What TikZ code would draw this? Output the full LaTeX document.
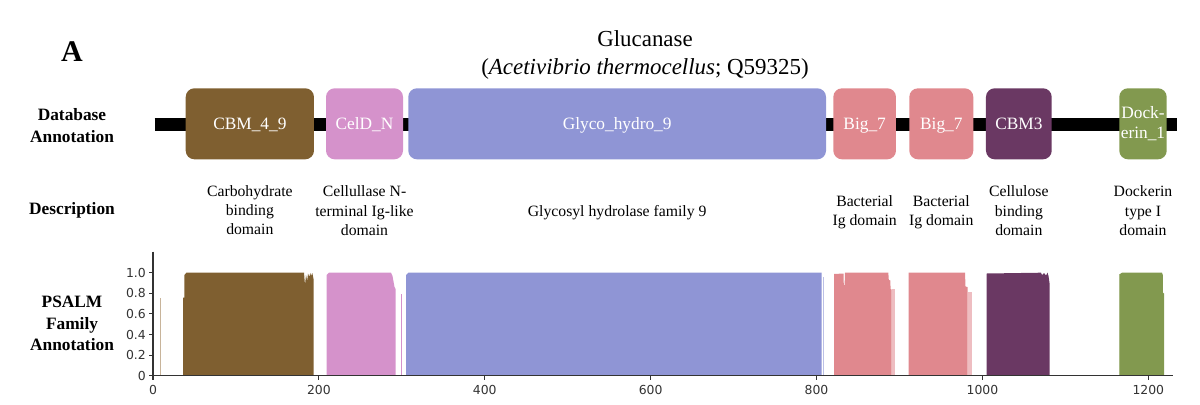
\documentclass[tikz,border=0pt]{standalone}
\usepackage{fontspec}
\setmainfont{Liberation Serif}
\newfontfamily\tickfont{DejaVu Sans}
\definecolor{cbrown}{HTML}{7F5F30}
\definecolor{cpink}{HTML}{D592CB}
\definecolor{cblue}{HTML}{8F95D5}
\definecolor{cred}{HTML}{E0888E}
\definecolor{cpurple}{HTML}{6A3863}
\definecolor{cgreen}{HTML}{82994F}
\definecolor{ctan}{HTML}{C8B49A}
\definecolor{caxis}{HTML}{333333}
\begin{document}
\begin{tikzpicture}[x=0.75pt,y=-0.75pt,
  dom/.style={rectangle, rounded corners=6.5pt, minimum height=53.25pt, inner sep=0pt,
    text=white, font=\fontsize{13}{15}\selectfont, align=center},
  oneline/.style={text height=8.6pt, text depth=0pt},
  side/.style={font=\fontsize{13}{16.3}\selectfont\bfseries, align=center},
  desc/.style={font=\fontsize{11.8}{14.4}\selectfont, align=center},
  axisline/.style={draw=caxis, line width=0.8pt},
  ticklab/.style={font=\fontsize{9.3}{11}\tickfont, text=caxis, inner sep=0pt}]
\useasboundingbox (0,0) rectangle (1200,404);

% panel letter and title
\node[font=\fontsize{22.5}{26}\selectfont\bfseries, anchor=base] (lblA) at (72,61.7) {A};
\node[font=\fontsize{17.2}{20}\selectfont, anchor=base] (title1) at (645,46.7) {Glucanase};
\node[font=\fontsize{17.2}{20}\selectfont, anchor=base] (title2) at (645,74) {(\textit{Acetivibrio thermocellus}; Q59325)};

% row labels
\node[side] (rowdb) at (72,125.8) {Database\\Annotation};
\node[side] (rowdesc) at (72,210.5) {Description};
\node[side] (rowps) at (72,323.5) {PSALM\\Family\\Annotation};

% backbone
\coordinate (bbL) at (154.5,124.5);
\coordinate (bbR) at (1176.5,124.5);
\draw[line width=9.3pt] (bbL) -- (bbR);

% domains
\node[dom, oneline, fill=cbrown, minimum width=96.2pt] (d1) at (249.85,123.8) {CBM\_4\_9};
\node[dom, oneline, fill=cpink, minimum width=57.75pt] (d2) at (364.5,123.8) {CelD\_N};
\node[dom, oneline, fill=cblue, minimum width=313.3pt] (d3) at (617.15,123.8) {Glyco\_hydro\_9};
\node[dom, oneline, fill=cred, minimum width=47pt] (d4) at (864.65,123.8) {Big\_7};
\node[dom, oneline, fill=cred, minimum width=48pt] (d5) at (941.3,123.8) {Big\_7};
\node[dom, oneline, fill=cpurple, minimum width=49.3pt] (d6) at (1018.85,123.8) {CBM3};
\node[dom, fill=cgreen, minimum width=35.6pt, font=\fontsize{13}{15}\selectfont] (d7) at (1143,123.8) {Dock-\\erin\_1};

% descriptions
\node[desc] (e1) at (249.85,210.3) {Carbohydrate\\binding\\domain};
\node[desc] (e2) at (364.5,210.8) {Cellullase N-\\terminal Ig-like\\domain};
\node[desc] (e3) at (617.15,212.3) {Glycosyl hydrolase family 9};
\node[desc] (e4) at (864.65,212) {Bacterial\\Ig domain};
\node[desc] (e5) at (941.3,212) {Bacterial\\Ig domain};
\node[desc] (e6) at (1018.85,210.8) {Cellulose\\binding\\domain};
\node[desc] (e7) at (1143,210.8) {Dockerin\\type I\\domain};

% PSALM bars
\fill[ctan] (159.6,375.7) rectangle (161.2,297.7);
\fill[cbrown] (183,375.7) -- (183,297.5) -- (184.3,297.5) -- (184.3,275) -- (186.5,272.7) -- (304,272.7) -- (305,285) -- (306,275) -- (307.2,281) -- (308,273.5) -- (309.3,277) -- (310.3,272.9) -- (311,276) -- (312.3,273) -- (313.5,279) -- (313.5,375.7) -- cycle;
\fill[cpink] (326.7,375.7) -- (326.7,275) -- (329,272.7) -- (391,272.7) -- (392.5,276) -- (394.5,287) -- (395.5,289) -- (395.5,375.7) -- cycle;
\fill[cpink] (400.5,294) rectangle (401.8,375.7);
\fill[cblue] (406,375.7) -- (406,275) -- (408.3,272.7) -- (821.7,272.7) -- (821.7,375.7) -- cycle;
\fill[cblue!60] (822.8,276.5) rectangle (824,375.7);
\fill[cred] (834,375.7) -- (834,274) -- (843.5,273.5) -- (843.8,285) -- (844.6,285) -- (845,272.7) -- (888.3,272.7) -- (888.8,280) -- (890.3,280.5) -- (890.6,289) -- (891.5,289.5) -- (891.5,375.7) -- cycle;
\fill[cred!55] (892,289) rectangle (895,375.7);
\fill[cred] (908.7,375.7) -- (908.7,272.7) -- (965,272.7) -- (965.5,286.5) -- (967.5,287) -- (967.5,375.7) -- cycle;
\fill[cred!55] (967.5,291.5) rectangle (971.5,375.7);
\fill[cpurple] (986.7,375.7) -- (986.7,273.5) -- (1041,272.7) -- (1042,275) -- (1044,273) -- (1046,275.5) -- (1047.5,272.7) -- (1048.5,276) -- (1049.5,283) -- (1049.5,375.7) -- cycle;
\fill[cgreen!70] (1119.3,375.7) rectangle (1120.5,274);
\fill[cgreen] (1120,375.7) -- (1120,274) -- (1122,272.7) -- (1162,272.7) -- (1162.8,275) -- (1162.8,292.5) -- (1164,293.5) -- (1164,375.7) -- cycle;

% axes
\coordinate (ytop) at (153,251.7);
\coordinate (orig) at (153,375.7);
\coordinate (xend) at (1173,375.7);
\draw[axisline] (ytop) -- (orig) -- (xend);
\foreach \v/\lab in {0/0, 0.2/0.2, 0.4/0.4, 0.6/0.6, 0.8/0.8, 1.0/1.0} {
  \draw[axisline] (153,375.7-103*\v) -- (149,375.7-103*\v);
  \node[ticklab, anchor=east] at (146,375.7-103*\v) {\lab};
}
\foreach \v in {0,200,400,600,800,1000,1200} {
  \draw[axisline] (153+0.8294*\v,375.7) -- (153+0.8294*\v,380);
  \node[ticklab] at (153+0.8294*\v,389.5) {\v};
}
\end{tikzpicture}
\end{document}
